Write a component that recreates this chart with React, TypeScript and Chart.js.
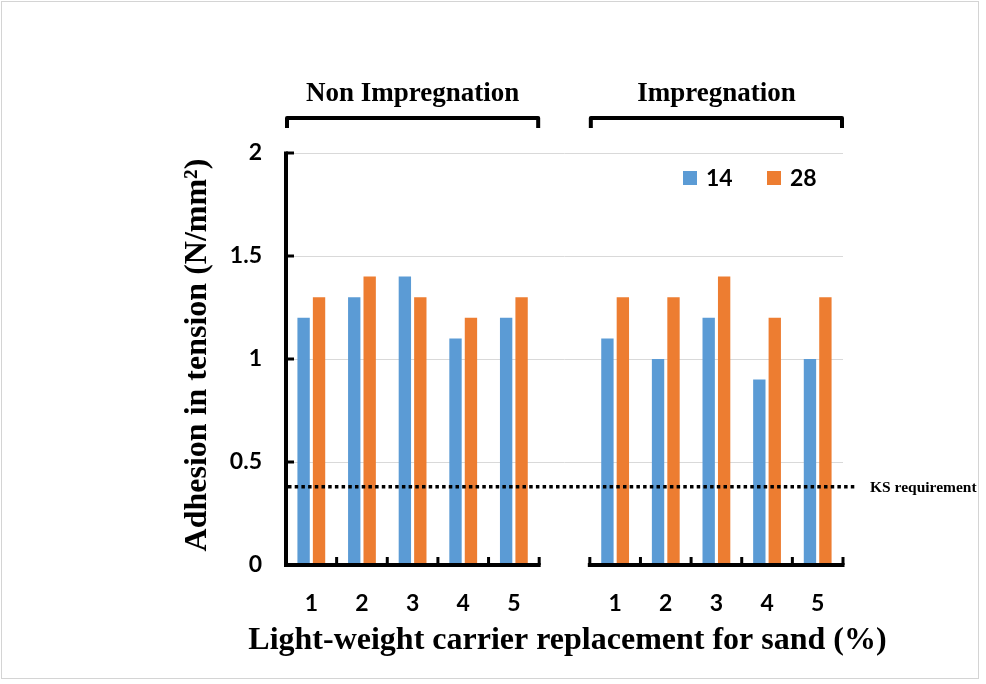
import React, { useEffect, useRef } from 'react';
import { Chart, registerables } from 'chart.js';

Chart.register(...registerables);

const categories = ['1', '2', '3', '4', '5', '', '1', '2', '3', '4', '5'];
const series14 = [1.2, 1.3, 1.4, 1.1, 1.2, null, 1.1, 1.0, 1.2, 0.9, 1.0];
const series28 = [1.3, 1.4, 1.3, 1.2, 1.3, null, 1.3, 1.3, 1.4, 1.2, 1.3];
const seriesLabels = ['14', '28'];
const seriesColors = ['#5B9BD5', '#ED7D31'];
const groupLabels = ['Non Impregnation', 'Impregnation'];
const groupRanges: [number, number][] = [[0, 4], [6, 10]];
const ksRequirement = 0.38;
const ksLabel = 'KS requirement';
const yTicks = [0, 0.5, 1, 1.5, 2];
const yTickLabels = ['0', '0.5', '1', '1.5', '2'];
const xTitle = 'Light-weight carrier replacement for sand (%)';
const yTitle = 'Adhesion in tension (N/mm²)';

const SERIF = '"Liberation Serif", "Times New Roman", serif';
const SANS = 'Lato, "Open Sans", sans-serif';

const decor = {
  id: 'decor',
  beforeDraw(chart: any) {
    const { ctx, width, height } = chart;
    ctx.save();
    ctx.fillStyle = '#ffffff';
    ctx.fillRect(0, 0, width, height);
    ctx.strokeStyle = '#d4d4d4';
    ctx.lineWidth = 1;
    ctx.strokeRect(1.5, 1.5, 977, 677);
    ctx.restore();
  },
  afterDatasetsDraw(chart: any) {
    const { ctx, chartArea } = chart;
    const x = chart.scales.x;
    const y = chart.scales.y;
    const half = (x.getPixelForValue(1) - x.getPixelForValue(0)) / 2;
    const y0 = y.getPixelForValue(0);
    const yTop = y.getPixelForValue(yTicks[yTicks.length - 1]);
    ctx.save();
    ctx.strokeStyle = '#000';
    ctx.lineCap = 'butt';
    // y axis
    ctx.lineWidth = 4;
    ctx.beginPath();
    ctx.moveTo(chartArea.left, yTop - 1.5);
    ctx.lineTo(chartArea.left, y0 + 2);
    ctx.stroke();
    ctx.lineWidth = 3;
    yTicks.forEach((v) => {
      const py = y.getPixelForValue(v);
      ctx.beginPath();
      ctx.moveTo(chartArea.left, py);
      ctx.lineTo(chartArea.left + 8, py);
      ctx.stroke();
    });
    // x axis segments
    groupRanges.forEach(([a, b]) => {
      const xl = x.getPixelForValue(a) - half;
      const xr = x.getPixelForValue(b) + half;
      ctx.lineWidth = 4;
      ctx.beginPath();
      ctx.moveTo(xl - 2, y0);
      ctx.lineTo(xr + 1.5, y0);
      ctx.stroke();
      ctx.lineWidth = 3;
      for (let i = 0; i <= b - a + 1; i++) {
        const px = xl + i * 2 * half;
        ctx.beginPath();
        ctx.moveTo(px, y0);
        ctx.lineTo(px, y0 - 8);
        ctx.stroke();
      }
    });
    ctx.restore();
  },
  afterDraw(chart: any) {
    const { ctx, chartArea } = chart;
    const x = chart.scales.x;
    const y = chart.scales.y;
    const half = (x.getPixelForValue(1) - x.getPixelForValue(0)) / 2;
    ctx.save();
    // KS requirement line
    const ky = y.getPixelForValue(ksRequirement);
    ctx.strokeStyle = '#000';
    ctx.lineWidth = 3.5;
    ctx.setLineDash([3.5, 3.2]);
    ctx.beginPath();
    ctx.moveTo(chartArea.left + 2, ky);
    ctx.lineTo(chartArea.right + 14, ky);
    ctx.stroke();
    ctx.setLineDash([]);
    ctx.fillStyle = '#000';
    ctx.font = `bold 15.5px ${SERIF}`;
    ctx.textAlign = 'left';
    ctx.textBaseline = 'middle';
    ctx.fillText(ksLabel, chartArea.right + 27, ky + 1);

    // group brackets
    groupRanges.forEach(([a, b], gi) => {
      const xl = x.getPixelForValue(a) - half + 1;
      const xr = x.getPixelForValue(b) + half - 1;
      const by = chartArea.top - 35;
      ctx.lineWidth = 4;
      ctx.lineJoin = 'round';
      ctx.beginPath();
      ctx.moveTo(xl, by + 10);
      ctx.lineTo(xl, by);
      ctx.lineTo(xr, by);
      ctx.lineTo(xr, by + 10);
      ctx.stroke();
      ctx.font = `bold 27px ${SERIF}`;
      ctx.textAlign = 'center';
      ctx.textBaseline = 'middle';
      ctx.fillText(groupLabels[gi], (xl + xr) / 2, chartArea.top - 59);
    });

    // legend
    const ly = chartArea.top + 25;
    const legendX = [chartArea.right - 160, chartArea.right - 76];
    seriesLabels.forEach((lab, i) => {
      ctx.fillStyle = seriesColors[i];
      ctx.fillRect(legendX[i], ly - 7, 14, 14);
      ctx.fillStyle = '#000';
      ctx.font = `bold 23px ${SANS}`;
      ctx.textAlign = 'left';
      ctx.textBaseline = 'middle';
      ctx.fillText(lab, legendX[i] + 23, ly + 1);
    });

    // axis titles
    ctx.fillStyle = '#000';
    ctx.font = `bold 32px ${SERIF}`;
    ctx.textAlign = 'center';
    ctx.textBaseline = 'middle';
    ctx.fillText(xTitle, (chartArea.left + chartArea.right) / 2 + 3, chartArea.bottom + 76);
    ctx.save();
    ctx.translate(chartArea.left - 88, (chartArea.top + chartArea.bottom) / 2 - 4);
    ctx.rotate(-Math.PI / 2);
    ctx.fillText(yTitle, 0, 0);
    ctx.restore();
    ctx.restore();
  },
};

export default function App() {
  const ref = useRef<HTMLCanvasElement | null>(null);
  useEffect(() => {
    if (!ref.current) return;
    const chart = new Chart(ref.current, {
      type: 'bar',
      data: {
        labels: categories,
        datasets: [
          { label: seriesLabels[0], data: series14, backgroundColor: seriesColors[0] },
          { label: seriesLabels[1], data: series28, backgroundColor: seriesColors[1] },
        ],
      },
      options: {
        responsive: false,
        animation: false,
        layout: { padding: { left: 0, top: 153, right: 143, bottom: 0 } },
        datasets: { bar: { categoryPercentage: 0.61, barPercentage: 0.8 } },
        plugins: { legend: { display: false }, tooltip: { enabled: false } },
        scales: {
          x: {
            type: 'category',
            grid: { display: false, drawTicks: false },
            border: { display: false },
            ticks: {
              color: '#000',
              font: { family: SANS, weight: 'bold', size: 23 },
              padding: 25,
              maxRotation: 0,
              autoSkip: false,
            },
            afterFit: (s: any) => {
              s.height = 119;
            },
          },
          y: {
            min: 0,
            max: 2,
            afterBuildTicks: (s: any) => {
              s.ticks = yTicks.map((v) => ({ value: v }));
            },
            ticks: {
              color: '#000',
              font: { family: SANS, weight: 'bold', size: 23 },
              padding: 24,
              callback: (v: any) => {
                const i = yTicks.indexOf(Number(v));
                return i >= 0 ? yTickLabels[i] : '';
              },
            },
            grid: {
              color: '#d9d9d9',
              lineWidth: (c: any) => (c.tick && c.tick.value === 0 ? 0 : 1),
              drawTicks: false,
            },
            border: { display: false },
            afterFit: (s: any) => {
              s.width = 286;
            },
          },
        },
      } as any,
      plugins: [decor],
    });
    return () => chart.destroy();
  }, []);
  return (
    <div style={{ position: 'absolute', left: 0, top: 0, width: 986, height: 684 }}>
      <canvas ref={ref} width={986} height={684} />
    </div>
  );
}
